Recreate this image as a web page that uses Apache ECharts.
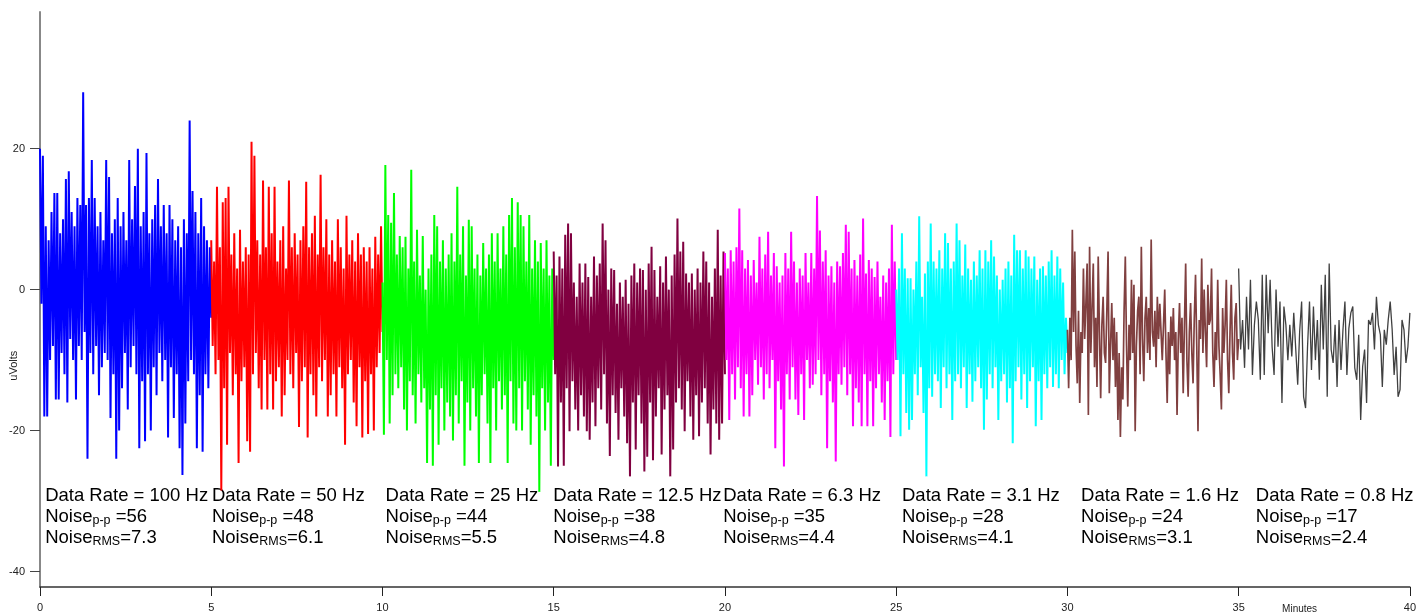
<!DOCTYPE html>
<html>
<head>
<meta charset="utf-8">
<script src="https://cdn.jsdelivr.net/npm/echarts@6/dist/echarts.min.js"></script>
<style>
  html, body { margin: 0; padding: 0; background: #fff; }
  #chart { width: 1419px; height: 613px; }
</style>
</head>
<body>
<div id="chart"></div>
<script>
// Axis ticks
const yTicks = [-40, -20, 0, 20];
const xTicks = [0, 5, 10, 15, 20, 25, 30, 35, 40];

// Each block of the recording lasts 5 minutes, one block per output data rate
const segStart = [0, 5, 10, 15, 20, 25, 30, 35];
const segEnd = [5, 10, 15, 20, 25, 30, 35, 40];
const rates = ['100', '50', '25', '12.5', '6.3', '3.1', '1.6', '0.8'];
const noisePP = ['56', '48', '44', '38', '35', '28', '24', '17'];
const noiseRMS = ['7.3', '6.1', '5.5', '4.8', '4.4', '4.1', '3.1', '2.4'];
const colors = ['#0000ff', '#ff0000', '#00ff00', '#800040', '#ff00ff', '#00ffff', '#804040', '#404040'];
// stroke width per block: fast rates pack many samples per pixel
const strokeWidth = [2, 2, 2, 2, 2, 2, 1.7, 1.3];
// left edge of each annotation block, in minutes
const labelX = [0.15, 5.02, 10.09, 14.99, 19.95, 25.17, 30.4, 35.5];

// Signal, uVolts
const rate100 = [20,-2, 19,-18, 9,-18, 7,-10, 11,-8, 13.7,-15.6, 13.7,-15.6, 8,-9, 10,-12, 15.7,-16, 16.8,-7, 11,-10, 9,-15.6, 13,-8, 12,-10, 28,-6, 12,-24, 13,-9, 18.4,-12, 13,-8, 9,-15, 11,-11, 7,-9, 18.4,-10, 16,-18.2, 8,-12, 10,-24, 13,-20, 9,-14, 11,-9, 7,-17, 18.4,-11, 10,-8, 14.7,-12, 20,-22.5, 9,-13, 11,-21.5, 19.4,-12, 8,-20, 10,-11, 12,-15, 15.7,-9, 9,-13, 12,-10, 8,-21, 12,-11, 10,-18.2, 7,-12, 9,-22.5, 6,-26.3, 10,-19, 8,-13, 24,-10, 14,-12, 11,-22.5, 8,-15, 13,-23, 9,-12, 7,-14, 6,-4];
const rate50 = [7,-8, 4,-12, 14.6,-10, 6,-28.5, 12.4,-14, 13,-22, 14.6,-9, 5,-15, 8,-12, 3,-24.6, 8.5,-13, 4,-11, 6,-21.5, 5,-23, 21,-12, 19,-9, 7,-14, 5,-17, 15.5,-10, 6,-17, 14.6,-12, 8,-17, 14.6,-13, 4,-11, 7,-18, 9,-15, 3,-10, 15.5,-12, 6,-14, 8,-9, 5,-19.5, 7,-13, 9,-11, 15.3,-21, 6,-12, 8,-15, 10.5,-18, 5,-11, 16.3,-13, 6,-10, 10,-18, 5,-15, 7,-12, 4,-18, 10,-11, 6,-14, 3,-22, 10.5,-12, 5,-10, 7,-16, 4,-19.4, 8,-11, 5,-21, 6,-13, 4,-20.5, 6,-12, 3,-20, 7.5,-11, 5,-9, 9,-6];
const rate25 = [1,-20.6, 17.7,-10, 10.6,-19, 9.5,-15, 13.7,-12, 5,-14, 7.6,-11, 6,-17, 7.5,-20, 3,-13, 17,-15, 4,-19, 8.5,-12, 2,-16, 7.6,-14, 0,-24.6, 3,-17, 5,-25, 10.6,-15, 9,-22, 4,-14, 7,-20, 3,-16, 5,-18, 8,-21.4, 4,-15, 14.6,-19, 5,-13, 9,-25, 2,-16, 9.9,-20, 9,-14, 3,-18, 5,-24.6, 2,-15, 6.6,-12, 3,-19, 5,-24.6, 8,-14, 4,-20, 8,-13, 3,-17, 9,-15, 5,-24.6, 10.6,-13, 13,-19, 6,-20, 12.4,-14, 10.6,-20, 9,-13, 4,-17, 10.6,-22, 3,-15, 7,-18, 4,-28.7, 6.6,-14, 3,-20, 7,-16, 2,-25, 3,-10];
const rate12_5 = [5.4,-12, 2,-25.1, 4.7,-16, 3,-25, 7.8,-14, 9.4,-20.1, 8,-13, 1,-17, -1,-20, 3.7,-15, 1,-18, 3.7,-20.1, 1.8,-21.3, -1,-16, 4.7,-19.4, 2,-14, 3.7,-17, 9.4,-12, 7,-19, 0,-23.6, 3,-15, 2.8,-17.5, -2,-21.3, 1,-14, -1,-18, 1.4,-21.8, -2,-26.5, 2,-16, 3.7,-22.7, 1,-15, 3,-19, 2.8,-25.8, 0,-23.7, 3.7,-16, 6.1,-24.2, 2.8,-18, -1,-14, 3.3,-23.4, 1,-17, 4.7,-15, 0,-26.5, 2,-22.7, 5,-16, 10.1,-14, 5.4,-17, 6.8,-20.1, 2.3,-13, 1,-18, 2.3,-21.3, 0,-15, 3,-20.8, 1,-16, 5.4,-14, 4,-19, 1,-23.4, -1,-17, 3,-19, 8.5,-21.3, 2,-19, 5.4,-12];
const rate6_3 = [5.2,-10, 3,-18.5, 5.6,-12, 4,-15.6, 6,-11, 11.5,-14, 5.6,-18, 3,-12, 4.2,-18, 2,-15, 4.2,-10, 1,-13.5, 7.5,-11, 3,-15.6, 5,-12, 8.2,-14, 2,-10, 5.2,-22.5, 3.3,-13, 1,-17, 2,-25.1, 5.2,-12, 3,-15.6, 8.2,-11, 4,-15.6, 1,-17.8, 3,-12, 2,-18.5, 5.2,-10, 1,-14, 5.2,-13.5, 3,-12, 13.3,-10, 8.4,-15, 4,-12, 5.6,-22.5, 2,-13, 3.3,-16, 1,-24.4, 4,-12, 3.3,-13.5, 5.2,-11, 9.2,-15, 8.2,-12, 3,-19.4, 4.2,-14, 2,-16, 5,-19.4, 10.1,-12, 2.3,-19.4, 4.2,-13, 3,-19.4, 1.8,-14, 4,-12, -1,-16, 2,-18.5, 1,-13, 3,-20.9, 9.2,-12, 4,-10];
const rate3_1 = [0,-10, 3,-20.8, 8,-12, 3,-17.5, 1.6,-19.9, 1.6,-18.5, 0,-12, 4,-15, 10.4,-11, -1,-17.5, 2.3,-26.5, 4,-14, 9.4,-15.2, 4,-12, 3,-13, 5.6,-16.8, 3,-11, 8,-14, 6.6,-12, 3,-18.5, 4,-13, 9.4,-12, 7,-14, 2,-11, 6.4,-16.8, 3,-12, 1.4,-15.9, 4,-13, 2,-11, 5.6,-14, 3,-19.9, 5.6,-15.6, 4,-12, 7,-14, 4.7,-11, 2,-18.5, 0,-13, 1.4,-12, 3,-16, 4,-14, 2,-21.8, 7.8,-13, 5.6,-11, 5.6,-15.6, 3,-12, 5.6,-16.8, 4.7,-13, 3,-11, 4.7,-19.4, 1.4,-13, 3,-18.5, 3.3,-12, 2,-14, 4,-11, 5.6,-13.8, 2,-12, 4.7,-14, 3,-10, 1,-12, -4,-9];
const rate1_6 = [
  -5.7,-14,-4,-10,8.5,-6,5.4,-8,-13.3,-3,
  -16.1,-6,-9,3,-7,-2,3.7,-17.8,6.1,-9,
  -2.6,3.7,-11,-4,-13.8,4.7,-6,-15.4,-5,-1,
  -9,-10.4,-3,5.4,-14.7,-8,-1.9,-10,-4,-13.8,
  -6,-18.5,-9,-20.9,-11,-15.6,-3,4.7,-8,-16.6,
  -5,-10,1.4,-9,0.7,-20.1,-8,-3,-1,-12,
  6.1,-7,-13,-4,-1,-9,-2.6,-10,7.1,-6,
  -8.1,-3,-11,-1,-7,-2,-1.9,-10,-5,0,
  -9,-16.1,-6,-12,-3.8,-8,-2.6,-10,-6,-17.8,
  -7,-1.9,-9,-4,-14.7,-5,3.7,-10,-15.2,-6,
  -1.9,-9,-13.3,-4,2.1,-8,-20.1,-4.3,-7,4.4,
  -9,0,-6,-11,0.7,-5,-4.3,3,-9,-13.8,
  -6,-10,1.4,-8,-12,-17,-2.6,-9,-5,1.4,
  -10,-14.7,-6,0.7,-9,-12.8,-4,-1.9,-10,-7];
const rate0_8 = [
  3.0,-8.5,-4.3,-11.1,-1.0,-8.5,1.4,-12.1,-5.0,-1.7,
  -4.3,-12.8,2.1,-12.1,2.1,-6.2,1.4,-8.1,-12.1,0,
  -8.1,-1.7,-16.1,-2.4,-5.0,-10.0,-5.0,-9.5,-3.3,-3.3,
  -13.5,-5.9,-1.7,-15.2,-16.8,-8.1,-1.7,-11.4,-2.4,-10.0,
  -4.3,-12.8,0.7,-8.5,2.1,-15.2,3.7,-8.5,-10.4,-5.0,
  -13.8,-4.3,-11.4,-5.7,-1.7,-12.1,-5.5,-3.3,-2.4,-11.1,
  -12.8,-6.4,-18.5,-10.9,-8.5,-16.1,-4.3,-5.0,-3.3,-8.5,
  -1.0,-5.0,-6.4,-13.8,-5.7,-7.8,-4.3,-1.7,-5.7,-12.1,
  -8.1,-15.2,-14.2,-4.3,-5.7,-10.4,-8.1,-3.3];

const segValues = [rate100, rate50, rate25, rate12_5, rate6_3, rate3_1, rate1_6, rate0_8];

const FONT = '"Liberation Sans", Arial, Helvetica, sans-serif';

// Spread each block's samples evenly over its 5-minute span
function timeSeries(vals, t0, t1) {
  const n = vals.length;
  return vals.map((v, i) => [t0 + (t1 - t0) * i / (n - 1), v]);
}

const series = segValues.map((vals, k) => ({
  name: rates[k] + ' Hz',
  type: 'line',
  data: timeSeries(vals, segStart[k], segEnd[k]),
  showSymbol: false,
  symbol: 'none',
  smooth: false,
  lineStyle: { color: colors[k], width: strokeWidth[k], join: 'miter', miterLimit: 3 },
  itemStyle: { color: colors[k] },
  silent: true,
  z: 2 + k
}));

const chart = echarts.init(document.getElementById('chart'), null, { renderer: 'canvas' });

const grid = { left: 40, right: 7, top: 12, bottom: 26 };

chart.setOption({
  animation: false,
  backgroundColor: '#ffffff',
  grid: grid,
  xAxis: {
    type: 'value',
    min: xTicks[0],
    max: xTicks[xTicks.length - 1],
    interval: 5,
    splitLine: { show: false },
    axisLine: { show: true, onZero: false, lineStyle: { color: '#333333', width: 1.5 } },
    axisTick: { show: true, inside: false, length: 9, lineStyle: { color: '#222222', width: 1 } },
    axisLabel: { color: '#222222', fontSize: 11, fontFamily: FONT, margin: 15 }
  },
  yAxis: {
    type: 'value',
    min: -42.2,
    max: 39.4,
    splitLine: { show: false },
    axisLine: { show: true, onZero: false, lineStyle: { color: '#888888', width: 2 } },
    axisTick: { show: true, inside: false, length: 10, customValues: yTicks, lineStyle: { color: '#444444', width: 1 } },
    axisLabel: { color: '#222222', fontSize: 11, fontFamily: FONT, margin: 15, customValues: yTicks }
  },
  series: series
});

// Annotation blocks under each data-rate section
const graphics = [];
const topVal = -27.8;
rates.forEach((r, k) => {
  const p = chart.convertToPixel({ gridIndex: 0 }, [labelX[k], topVal]);
  graphics.push({
    type: 'text',
    x: p[0],
    y: p[1],
    silent: true,
    style: {
      text: 'Data Rate = ' + r + ' Hz\nNoise{sub|p-p} =' + noisePP[k] + '\nNoise{sub|RMS}=' + noiseRMS[k],
      fontSize: 18.5,
      lineHeight: 21,
      fontFamily: FONT,
      fill: '#000000',
      align: 'left',
      verticalAlign: 'top',
      rich: {
        sub: { fontSize: 12.5, lineHeight: 10, verticalAlign: 'bottom', fontFamily: FONT, fill: '#000000' }
      }
    }
  });
});

// Axis titles
const minutesPos = chart.convertToPixel({ gridIndex: 0 }, [36.78, 0]);
const h = chart.getHeight();
graphics.push({
  type: 'text',
  x: minutesPos[0],
  y: h - grid.bottom + 22,
  silent: true,
  style: { text: 'Minutes', fontSize: 10, fontFamily: FONT, fill: '#222222', align: 'center', verticalAlign: 'middle' }
});
const voltPos = chart.convertToPixel({ gridIndex: 0 }, [0, -10.8]);
graphics.push({
  type: 'text',
  x: grid.left - 26,
  y: voltPos[1],
  rotation: Math.PI / 2,
  silent: true,
  style: { text: 'uVolts', fontSize: 11, fontFamily: FONT, fill: '#222222', align: 'center', verticalAlign: 'middle' }
});

chart.setOption({ graphic: graphics });
</script>
</body>
</html>
